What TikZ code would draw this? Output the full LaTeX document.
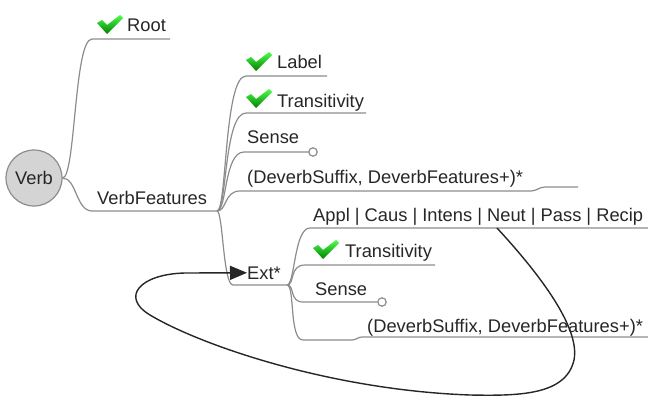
\documentclass[tikz,border=0pt]{standalone}
\usepackage{fontspec}
\setmainfont{Liberation Sans}
\usetikzlibrary{arrows.meta}
\definecolor{twiggray}{HTML}{8C8C8C}
\definecolor{bubble}{HTML}{D4D4D4}
\tikzset{
  twig/.style={draw=twiggray,line width=1.2pt},
  item/.style={anchor=base west,inner sep=0pt,text=black!85,font=\fontsize{18.3}{22}\selectfont},
  okmark/.pic={\shade[top color=green!70!white,bottom color=green!50!black]
    (0,-8) -- (5,-5) -- (10,-10) -- (23,0) -- (26,-3) -- (10,-19) -- cycle;},
  loopback/.style={draw=black!85,line width=1.4pt,-{Triangle[length=17pt,width=14pt]}}
}
\begin{document}
\begin{tikzpicture}[x=1pt,y=1pt]
      \useasboundingbox (0,0) rectangle (648,-396);

      \node[circle,draw=twiggray,fill=bubble,line width=1.2pt,minimum size=56pt,inner sep=0pt,
            font=\fontsize{18.3}{22}\selectfont,text=black!85] (verb) at (34,-178) {Verb};

      \begin{scope}[every node/.style={item}]
        \node (root)   at (127,-32)  {Root};
        \node (vfeat)  at (97,-204)  {VerbFeatures};
        \node (label)  at (277,-69)  {Label};
        \node (trans)  at (277,-107) {Transitivity};
        \node (sense)  at (247,-143) {Sense};
        \node (deverb) at (247,-183) {(DeverbSuffix, DeverbFeatures+)*};
        \node (ext)    at (247,-279) {Ext*};
        \node (appl)   at (313,-221) {Appl | Caus | Intens | Neut | Pass | Recip};
        \node (etrans) at (345,-257) {Transitivity};
        \node (esense) at (315,-295) {Sense};
        \node (edever) at (367,-332) {(DeverbSuffix, DeverbFeatures+)*};
      \end{scope}

      \pic at (97,-15)  {okmark};
      \pic at (246,-52) {okmark};
      \pic at (246,-89) {okmark};
      \pic at (313,-240) {okmark};

      % branch points and ends of the underlines
      \coordinate (vf)  at (217,-211);
      \coordinate (ebp) at (287,-285);
      \coordinate (apploop) at (497,-228);

      \begin{scope}[every path/.style={twig}]
        \path (verb.east) .. controls +(13,0) and +(-18,0) .. (92,-39) -- (170,-39);
        \path (verb.east) .. controls +(14,0) and +(-16,0) .. (92,-211) -- (vf);

        \path (vf) .. controls +(10,0) and +(-22,0) .. (246,-76) -- (327,-76);
        \path (vf) .. controls +(10,0) and +(-22,0) .. (246,-113) -- (366,-113);
        \path (vf) .. controls +(10,0) and +(-20,0) .. (244,-152) -- (309,-152);
        \path (vf) .. controls +(10,0) and +(-16,0) .. (240,-191) -- (531,-191)
              to[out=0,in=180] (545,-187) -- (578,-187);
        \path (vf) .. controls +(6,0) and +(-10,0) .. (233,-285) -- (ebp);

        \path (ebp) .. controls +(8,0) and +(-16,0) .. (310,-228) -- (648,-228);
        \path (ebp) .. controls +(8,0) and +(-16,0) .. (305,-265) -- (435,-265);
        \path (ebp) .. controls +(8,0) and +(-14,0) .. (303,-302) -- (377,-302);
        \path (ebp) .. controls +(8,0) and +(-14,0) .. (303,-340) -- (352,-340)
              to[out=0,in=180] (362,-337) -- (648,-337);

        \path[fill=white] (313,-152) circle (4.2);
        \path[fill=white] (382,-302) circle (4.2);
      \end{scope}

      % Ext* loops back on itself
      \draw[loopback] (apploop) .. controls (545,-280) and (580,-330) .. (574,-360)
            .. controls (566,-395) and (520,-396) .. (470,-395)
            .. controls (330,-390) and (200,-345) .. (150,-315)
            .. controls (120,-297) and (140,-274) .. (185,-273) -- (ext.west);

    \end{tikzpicture}
\end{document}
